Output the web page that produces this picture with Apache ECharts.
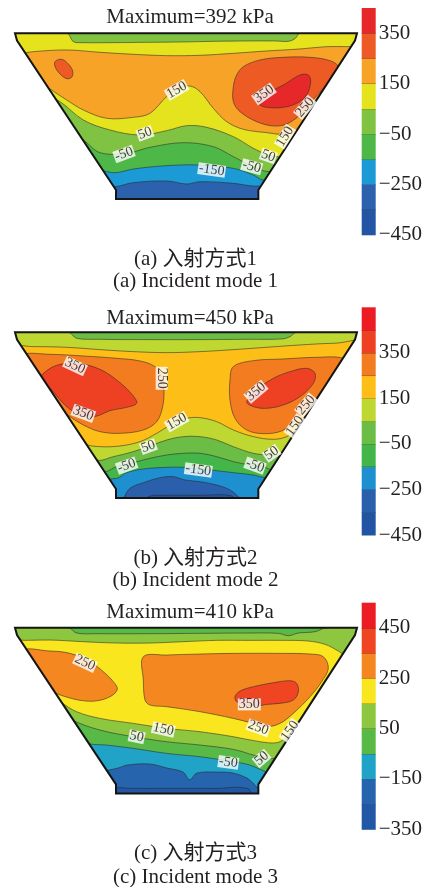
<!DOCTYPE html>
<html>
<head>
<meta charset="utf-8">
<title>Wave pressure on the dam cross-section</title>
<script src="https://cdn.jsdelivr.net/npm/echarts@6/dist/echarts.min.js"></script>
<style>
  html, body { margin: 0; padding: 0; background: #fff; }
  #chart { width: 425px; height: 887px; }
</style>
</head>
<body>
<div id="chart"></div>
<script>
// ------------------------------------------------------------------
// Cross-section geometry: x along the crest (m), depth measured down (m)
// ------------------------------------------------------------------
const SPAN = 102.6;
const DEPTH = 49.7;
const damOutline = [[0, 0], [0.6, 2.2], [30.3, 47], [30.3, 49.7], [73, 49.7], [73, 47], [102, 2.2], [102.6, 0]];

// ------------------------------------------------------------------
// Incident mode 1
// ------------------------------------------------------------------
const m1Max = 392;
const m1Levels = [-450, -350, -250, -150, -50, 50, 150, 250, 350, 450];
const m1Colors = ['#2256A5', '#2C62AD', '#1B9AD6', '#4DB848', '#80C242', '#E4E31E', '#F6A327', '#EE5A24', '#E6282A'];
const m1Ticks = ['−450', '−250', '−50', '150', '350'];
// contour lines [x, depth]; value (kPa) of the band below each line
const m1LineValues = [0, 100, 200, 100, 0, -100, -200, -300];
const m1Line0 = [[-10, 0], [113, 0]];
const m1Line1 = [[-10, 0], [15.5, 0], [17.5, 2.5], [20, 2.8], [30, 2.8], [40, 2.7], [50, 2.6], [60, 2.4], [70, 2.3], [78, 2.3], [82, 2.4], [84, 1.6], [85.5, 0], [113, 0]];
const m1Line2 = [[-10, 6], [1.5, 6], [5.5, 5.5], [15.5, 5], [25.5, 5.7], [35.5, 6.3], [45.5, 6.7], [55.5, 6.6], [65.5, 6], [75.5, 5.3], [85.5, 4.7], [93.5, 4], [99.5, 4], [113, 4]];
const m1Line3 = [[-10, 8], [5, 13], [10.2, 16.5], [15.5, 20], [20.5, 23], [27.5, 25.5], [35.5, 25.2], [40.5, 24], [45.5, 19], [49.5, 16.5], [52.5, 15.8], [55.5, 17.5], [59.5, 22.5], [63.5, 26.5], [68.5, 28.8], [75.5, 29.8], [80.5, 30.3], [84, 29.5], [92, 26], [113, 26]];
const m1Line4 = [[-10, 12], [5, 16], [13.5, 20.5], [20.5, 26], [28.5, 29], [37.5, 30.5], [45.5, 29.2], [51.5, 27.7], [57.5, 28.2], [65.5, 31], [71.5, 34.5], [75.5, 36.3], [79, 37], [88, 36], [113, 36]];
const m1Line5 = [[-10, 20], [12, 27], [20.5, 32], [25.5, 35.8], [33.5, 36], [40.5, 34.2], [50.5, 32.8], [59.5, 34], [65.5, 37], [71.5, 40], [76, 41.5], [88, 41], [113, 41]];
const m1Line6 = [[-10, 30], [15, 37], [26, 41], [30, 41.8], [35.5, 40.7], [45.5, 39.7], [55.5, 39.5], [65.5, 40.5], [71.5, 42.5], [74.5, 44], [88, 44], [113, 44]];
const m1Line7 = [[-10, 40], [20, 46], [30, 46], [35.5, 44.8], [45.5, 44.3], [51.5, 45.2], [55.5, 44.5], [65.5, 45], [71.5, 45.8], [88, 46], [113, 46]];
// closed contours (pressure cells)
const m1CellValues = [300, 300, 400];
const m1Cell0 = [[12, 8.5], [14, 7.8], [16, 9.2], [17.3, 11.3], [17, 13.2], [15.5, 13.6], [13.5, 12.2], [12.1, 10.2]];
const m1Cell1 = [[68.5, 10], [73.5, 8], [80.5, 7.2], [88.5, 7.2], [94.5, 8.2], [97, 10], [96, 13], [92.5, 16.5], [89, 20.5], [85.5, 24.5], [81.5, 27.2], [77.5, 27.8], [72.5, 26.5], [67.5, 23.5], [65.5, 20.5], [65.5, 16], [66.5, 12.5]];
const m1Cell2 = [[72.5, 20], [75.5, 18], [80.5, 15.5], [85.5, 12.5], [88, 12.5], [88.7, 14.5], [87.5, 18.5], [84.5, 21], [80.5, 22.2], [75.5, 22.2], [73, 21.2]];
// contour labels
const m1LabelText = ['150', '350', '250', '150', '50', '50', '-50', '-50', '-150'];
const m1LabelAt = [[48.5, 17], [74.7, 18.2], [87, 22.2], [81, 31], [39, 30], [76, 36.8], [32.7, 36.2], [71, 40], [59, 41]];
const m1LabelAngle = [30, 35, 50, 58, 20, -20, 20, -15, -8];

// ------------------------------------------------------------------
// Incident mode 2
// ------------------------------------------------------------------
const m2Max = 450;
const m2Levels = [-450, -350, -250, -150, -50, 50, 150, 250, 350, 450, 550];
const m2Colors = ['#2155A4', '#2A5FAB', '#1E90D0', '#44B649', '#6CBD45', '#BFD731', '#FDBE18', '#F47C20', '#EE4124', '#EC1C24'];
const m2Ticks = ['−450', '−250', '−50', '150', '350'];
const m2LineValues = [0, 100, 200, 100, 0, -100, -200, -300, -400];
const m2Line0 = [[-10, 0], [113, 0]];
const m2Line1 = [[-10, 0], [16, 0], [18.5, 1.8], [25, 2.1], [40, 2.2], [55, 2.2], [70, 2.1], [80, 2], [82.5, 1.3], [84.5, 0], [113, 0]];
const m2Line2 = [[-10, 4.5], [5.5, 4.3], [15.5, 4.5], [25.5, 5.2], [35.5, 5.8], [45.5, 6.1], [55.5, 5.8], [65.5, 5.2], [75.5, 4.5], [85.5, 3.8], [95.5, 3.3], [113, 3.3]];
const m2Line3 = [[-10, 20], [10, 27], [21, 33.5], [25.5, 34.3], [31.5, 34.1], [37.5, 32.8], [42.5, 30.3], [47.5, 27.3], [51.5, 25.8], [55.5, 25.6], [60.5, 26.8], [65.5, 29.3], [71.5, 31.3], [77.5, 32.1], [81.5, 31.3], [84.5, 29.3], [92, 26], [113, 26]];
const m2Line4 = [[-10, 28], [12, 32], [24.5, 38.3], [29.5, 37.3], [35.5, 35.8], [40.5, 34.1], [45.5, 32.3], [50.5, 31.3], [55.5, 31.3], [60.5, 32.3], [65.5, 34.3], [71.5, 36.3], [76.5, 36.8], [80, 36.8], [90, 36], [113, 36]];
const m2Line5 = [[-10, 35], [15, 38], [26.5, 41.8], [30.5, 40.3], [35.5, 39.1], [40.5, 37.8], [45.5, 36.8], [50.5, 36.3], [55.5, 36.3], [60.5, 37.3], [65.5, 38.8], [70.5, 39.8], [74.5, 40.3], [77.2, 41.3], [88, 41], [113, 41]];
const m2Line6 = [[-10, 40], [20, 44], [30.5, 43.8], [33.5, 42.1], [38.5, 41], [45.5, 40.5], [50.5, 40.5], [55.5, 41], [60.5, 41.5], [65.5, 42.1], [71.5, 42.8], [74.5, 43.5], [88, 44], [113, 44]];
const m2Line7 = [[-10, 52], [31, 52], [32.5, 49.8], [34.5, 46.8], [38.5, 45.1], [43.5, 43.6], [47.5, 43.3], [51, 44.3], [55.5, 44.8], [60.5, 45.8], [64.5, 47.3], [67.5, 49.8], [69, 52], [113, 52]];
const m2Line8 = [[-10, 52], [38, 52], [40, 49.3], [45, 48.9], [55, 48.9], [65, 49.1], [67, 52], [113, 52]];
const m2CellValues = [300, 400, 300, 400];
const m2Cell0 = [[2.5, 6.8], [10.5, 6.6], [20.5, 7.1], [30.5, 7.8], [37.5, 8.6], [42, 10.3], [44.2, 13.3], [44.7, 17.3], [44.3, 22.3], [42.5, 26.8], [38.5, 29.3], [31.5, 30.3], [25.5, 29.8], [20.5, 27.8], [16.5, 25.3], [13.5, 22.8], [9.5, 17.3], [5.5, 11.3]];
const m2Cell1 = [[8.5, 12.3], [12.5, 9.9], [18.5, 9.3], [25.5, 11.1], [31.5, 15.1], [35.5, 19.1], [36.5, 21.3], [33.5, 22.5], [28.5, 23.5], [25.5, 24.8], [22.5, 25.5], [19.5, 24.8], [15.5, 22.3], [11.5, 17.8], [8, 13.5]];
const m2Cell2 = [[65.5, 10.3], [71.5, 8.5], [80.5, 8], [90.5, 7.5], [98.5, 7.8], [101, 10.5], [97.5, 14.8], [93.5, 18.8], [89.5, 21.2], [86.5, 23.8], [83.5, 27], [80, 29.6], [74.5, 30.4], [69.5, 29.3], [66, 25.8], [64.5, 20.3], [64.5, 14.3]];
const m2Cell3 = [[69.5, 20.8], [72.5, 17.3], [77.5, 13.8], [82.5, 11.8], [87.5, 10.8], [90, 12.3], [89.5, 15.3], [85.5, 19.3], [80.5, 21.8], [75.5, 22.8], [71.5, 22.3]];
const m2LabelText = ['350', '350', '250', '350', '250', '150', '150', '50', '50', '-50', '-50', '-150'];
const m2LabelAt = [[18, 10.1], [20.5, 24.3], [44, 13.8], [72.3, 17.8], [87.3, 21.8], [48.5, 26.8], [84, 28.1], [40, 34.3], [77, 36.3], [33.5, 40], [72, 40], [55, 41.3]];
const m2LabelAngle = [-25, -20, -90, 40, 50, 30, 55, 20, 35, 20, -20, -8];

// ------------------------------------------------------------------
// Incident mode 3
// ------------------------------------------------------------------
const m3Max = 410;
const m3Levels = [-350, -250, -150, -50, 50, 150, 250, 350, 450, 550];
const m3Colors = ['#2157A5', '#2764AE', '#21A3C8', '#58B947', '#8DC63F', '#F9E61E', '#F58721', '#EF4523', '#EC1C24'];
const m3Ticks = ['−350', '−150', '50', '250', '450'];
const m3LineValues = [0, 100, 200, 100, 0, -100, -200, -300];
const m3Line0 = [[-10, 0], [113, 0]];
const m3Line1 = [[-10, 0], [16, 0], [18.5, 1.6], [25, 1.8], [40, 1.8], [55, 1.7], [70, 1.6], [79, 1.7], [82, 2.4], [85, 1.6], [90, 1.2], [93.5, 0], [113, 0]];
const m3Line2 = [[-10, 3.8], [3, 3.8], [10.5, 3.7], [20.5, 4.2], [30.5, 4.6], [40.5, 4.6], [50.5, 4.2], [60.5, 3.8], [70.5, 3.8], [80.5, 3.8], [88, 4], [93, 5], [97, 7], [101, 9.5], [113, 10]];
const m3Line3 = [[-10, 12], [5, 16], [13.6, 22.2], [18.5, 25.2], [25.5, 27.2], [35.5, 28.7], [45.5, 30.2], [55.5, 31.2], [65.5, 32.7], [73.5, 34.2], [78.5, 34.5], [81, 33.2], [83, 31.2], [90, 27], [113, 27]];
const m3Line4 = [[-10, 18], [8, 22], [17.2, 27.7], [25.5, 30.7], [35.5, 32.7], [45.5, 34.2], [55.5, 35.2], [65.5, 36.5], [71.5, 38.2], [75.5, 39.2], [77.7, 39.2], [88, 38], [113, 38]];
const m3Line5 = [[-10, 26], [10, 30], [21.8, 34.7], [27.5, 35.2], [35.5, 36.2], [45.5, 37.7], [55.5, 38.7], [65.5, 40.2], [70.5, 41.2], [74, 42.7], [75.5, 43.2], [88, 43], [113, 43]];
const m3Line6 = [[-10, 40], [25, 43], [30.9, 42.1], [33.6, 41.2], [40.5, 40.9], [45.6, 42.1], [50.4, 43.3], [52.4, 45.6], [54.6, 43.6], [60.6, 43.3], [65.4, 43.6], [69.6, 45.1], [71.4, 46.6], [73, 48], [80, 48], [113, 48]];
const m3Line7 = [[-10, 52], [27, 52], [29, 48.3], [35, 48.2], [60, 48.2], [70, 48.3], [72, 52], [113, 52]];
const m3CellValues = [300, 300, 400];
const m3Cell0 = [[1.5, 7.2], [10.5, 7], [16.5, 7.7], [22.5, 10.2], [26.5, 13.2], [29.5, 16.2], [30.7, 18.5], [28.5, 20.7], [24, 22], [19, 21.7], [14.5, 20.5], [10.5, 19.2], [-0.5, 18.7]];
const m3Cell1 = [[38.5, 8.7], [45.5, 8.2], [55.5, 7.9], [65.5, 7.7], [80.5, 7.7], [88.5, 7.9], [92.5, 8.7], [94, 12.2], [92, 16.2], [88.5, 20.7], [83.5, 25.7], [79.5, 28.7], [75.5, 29.7], [71.5, 28.7], [65.5, 27.2], [55.5, 25.2], [45.5, 23.7], [40.5, 23.2], [39, 21.7], [38.5, 15.7]];
const m3Cell2 = [[66, 20.7], [67.5, 19], [71.5, 17.7], [77.5, 16.5], [82.5, 15.9], [84.5, 16.7], [85, 19.2], [83.5, 21.7], [79.5, 22.7], [75.5, 23], [73, 23.4], [69.5, 23.2], [66.5, 22.2]];
const m3LabelText = ['250', '350', '250', '150', '150', '50', '50', '-50'];
const m3LabelAt = [[21, 10.5], [70.3, 23], [73, 30], [44.5, 30.5], [82.5, 30.9], [36.5, 32.7], [74, 39.2], [64, 40.4]];
const m3LabelAngle = [-25, 0, -20, -12, 55, -12, 40, -8];

// ------------------------------------------------------------------
// Page text
// ------------------------------------------------------------------
const captionsCn = ['(a) 入射方式1', '(b) 入射方式2', '(c) 入射方式3'];
const captionsEn = ['(a) Incident mode 1', '(b) Incident mode 2', '(c) Incident mode 3'];
const sideLabels = ['迎波侧', '背波侧'];

const modes = [
  { max: m1Max, levels: m1Levels, colors: m1Colors, ticks: m1Ticks,
    lines: [m1Line0, m1Line1, m1Line2, m1Line3, m1Line4, m1Line5, m1Line6, m1Line7], lineValues: m1LineValues,
    cells: [m1Cell0, m1Cell1, m1Cell2], cellValues: m1CellValues,
    labelText: m1LabelText, labelAt: m1LabelAt, labelAngle: m1LabelAngle },
  { max: m2Max, levels: m2Levels, colors: m2Colors, ticks: m2Ticks,
    lines: [m2Line0, m2Line1, m2Line2, m2Line3, m2Line4, m2Line5, m2Line6, m2Line7, m2Line8], lineValues: m2LineValues,
    cells: [m2Cell0, m2Cell1, m2Cell2, m2Cell3], cellValues: m2CellValues,
    labelText: m2LabelText, labelAt: m2LabelAt, labelAngle: m2LabelAngle },
  { max: m3Max, levels: m3Levels, colors: m3Colors, ticks: m3Ticks,
    lines: [m3Line0, m3Line1, m3Line2, m3Line3, m3Line4, m3Line5, m3Line6, m3Line7], lineValues: m3LineValues,
    cells: [m3Cell0, m3Cell1, m3Cell2], cellValues: m3CellValues,
    labelText: m3LabelText, labelAt: m3LabelAt, labelAngle: m3LabelAngle }
];

// panel placement on the page (px)
const layout = [
  { mapTop: 33.3,  barTop: 8,     barH: 226.8, titleY: 17,    sideY: 172, capY: [259.5, 281.5] },
  { mapTop: 332.3, barTop: 307.3, barH: 227.7, titleY: 318,   sideY: 471, capY: [558, 580.5] },
  { mapTop: 627.7, barTop: 602.7, barH: 226.6, titleY: 612.5, sideY: 765, capY: [853, 877.5] }
];
const MAP_LEFT = 15, MAP_W = 342, MAP_H = 165.7;
const BAR_LEFT = 361.7, BAR_W = 14;

const SERIF = '"Liberation Serif", "Times New Roman", serif';
const MIXED = '"Liberation Serif", "Noto Sans CJK SC", serif';
const minusSign = v => String(v).replace('-', '−');

const grid = [], xAxis = [], yAxis = [], series = [], visualMap = [], graphic = [];

modes.forEach((m, p) => {
  const L = layout[p];
  grid.push({ left: MAP_LEFT, top: L.mapTop, width: MAP_W, height: MAP_H, outerBoundsMode: 'none' });
  xAxis.push({ gridIndex: p, type: 'value', min: 0, max: SPAN, show: false });
  yAxis.push({ gridIndex: p, type: 'value', min: 0, max: DEPTH, inverse: true, show: false });
});

modes.forEach((m, p) => {
  const L = layout[p];
  const n = m.levels.length - 1;
  grid.push({ left: BAR_LEFT, top: L.barTop, width: BAR_W, height: L.barH, outerBoundsMode: 'none' });
  xAxis.push({ gridIndex: 3 + p, type: 'value', min: 0, max: 1, show: false });
  yAxis.push({
    gridIndex: 3 + p, type: 'category', position: 'right', boundaryGap: false, z: 10,
    data: m.levels.map(minusSign),
    axisLine: { show: false }, axisTick: { show: false },
    splitLine: { show: true, interval: (i) => i > 0 && i < n, lineStyle: { color: 'rgba(40,40,40,0.3)', width: 0.8 } },
    axisLabel: {
      interval: 0, margin: 3, fontSize: 21, fontFamily: SERIF, color: '#231F20',
      formatter: v => (m.ticks.indexOf(v) >= 0 ? v : '')
    }
  });
});

modes.forEach((m, p) => {
  const L = layout[p];
  // shapes: open contour lines (filled downward) followed by closed cells
  const shapes = m.lines.map((pts, i) => ({ pts, value: m.lineValues[i], closed: false }))
    .concat(m.cells.map((pts, i) => ({ pts, value: m.cellValues[i], closed: true })));

  const contourIndex = series.length;
  series.push({
    type: 'custom', name: 'pressure ' + (p + 1), xAxisIndex: p, yAxisIndex: p,
    clip: true, silent: true, z: 2,
    data: shapes.map((s, i) => [i, s.value]),
    renderItem: (params, api) => {
      const i = api.value(0);
      const s = shapes[i];
      const pts = s.closed ? s.pts : s.pts.concat([[113, 62], [-10, 62]]);
      return {
        type: 'polygon', z2: i,
        shape: { points: pts.map(pt => api.coord(pt)), smooth: 0.35 },
        style: { fill: api.visual('color'), stroke: 'rgba(40,40,40,0.85)', lineWidth: 0.65 }
      };
    }
  });

  series.push({
    type: 'scatter', xAxisIndex: p, yAxisIndex: p, symbolSize: 0, silent: true, z: 6,
    data: m.labelText.map((t, i) => ({ name: t, value: m.labelAt[i], label: { rotate: m.labelAngle[i] } })),
    label: {
      show: true, position: 'inside', formatter: '{b}',
      fontFamily: SERIF, fontSize: 14, color: '#111',
      backgroundColor: '#fff', padding: [0, 1, -1, 1], lineHeight: 13
    }
  });

  // white masks outside the section and its outline
  series.push({
    type: 'custom', xAxisIndex: p, yAxisIndex: p, clip: false, silent: true, z: 5,
    data: [[0, 0]],
    renderItem: (params, api) => {
      const c = pt => api.coord(pt);
      const o = damOutline;
      const low = DEPTH + 1;
      const leftMask = [o[0], o[1], o[2], o[3], [o[3][0], low], [-0.6, low], [-0.6, 0]];
      const rightMask = [o[7], o[6], o[5], o[4], [o[4][0], low], [SPAN + 0.6, low], [SPAN + 0.6, 0]];
      return {
        type: 'group',
        children: [
          { type: 'polygon', shape: { points: leftMask.map(c) }, style: { fill: '#fff' } },
          { type: 'polygon', shape: { points: rightMask.map(c) }, style: { fill: '#fff' } },
          { type: 'polygon', shape: { points: o.map(c) }, style: { fill: 'none', stroke: '#151515', lineWidth: 2, lineJoin: 'miter' } }
        ]
      };
    }
  });

  // colour bar: one rectangle per level band, on the category scale of the bar grid
  const barIndex = series.length;
  series.push({
    type: 'custom', xAxisIndex: 3 + p, yAxisIndex: 3 + p, silent: true, z: 2,
    data: m.levels.slice(0, -1).map((lv, i) => [i, (lv + m.levels[i + 1]) / 2]),
    renderItem: (params, api) => {
      const i = api.value(0);
      const a = api.coord([0, i]);
      const b = api.coord([1, i + 1]);
      return {
        type: 'rect',
        shape: { x: a[0], y: b[1], width: b[0] - a[0], height: a[1] - b[1] + 0.5 },
        style: { fill: api.visual('color') }
      };
    }
  });

  const pieces = [];
  for (let i = 0; i < m.levels.length - 1; i++) {
    pieces.push({ gte: m.levels[i], lt: m.levels[i + 1], color: m.colors[i] });
  }
  visualMap.push({
    type: 'piecewise', show: false, seriesIndex: [contourIndex, barIndex], dimension: 1, pieces
  });

  const txt = (text, x, y, size, family, fill) => ({
    type: 'text', x, y, silent: true,
    style: { text, font: size + 'px ' + family, fill, align: 'center', verticalAlign: 'middle', textAlign: 'center', textVerticalAlign: 'middle' }
  });
  graphic.push(txt('Maximum=' + m.max + ' kPa', 190, L.titleY, 21, SERIF, '#231F20'));
  graphic.push(txt(sideLabels[0], 62.5, L.sideY, 21, '"Noto Sans CJK SC", sans-serif', '#333'));
  graphic.push(txt(sideLabels[1], 316.5, L.sideY, 21, '"Noto Sans CJK SC", sans-serif', '#333'));
  graphic.push(txt(captionsCn[p], 195.5, L.capY[0], 21, MIXED, '#231F20'));
  graphic.push(txt(captionsEn[p], 195.5, L.capY[1], 21, SERIF, '#231F20'));
});

const chart = echarts.init(document.getElementById('chart'), null, { renderer: 'canvas' });
chart.setOption({
  animation: false,
  backgroundColor: '#fff',
  grid, xAxis, yAxis, series, visualMap,
  graphic: { elements: graphic }
});
</script>
</body>
</html>
